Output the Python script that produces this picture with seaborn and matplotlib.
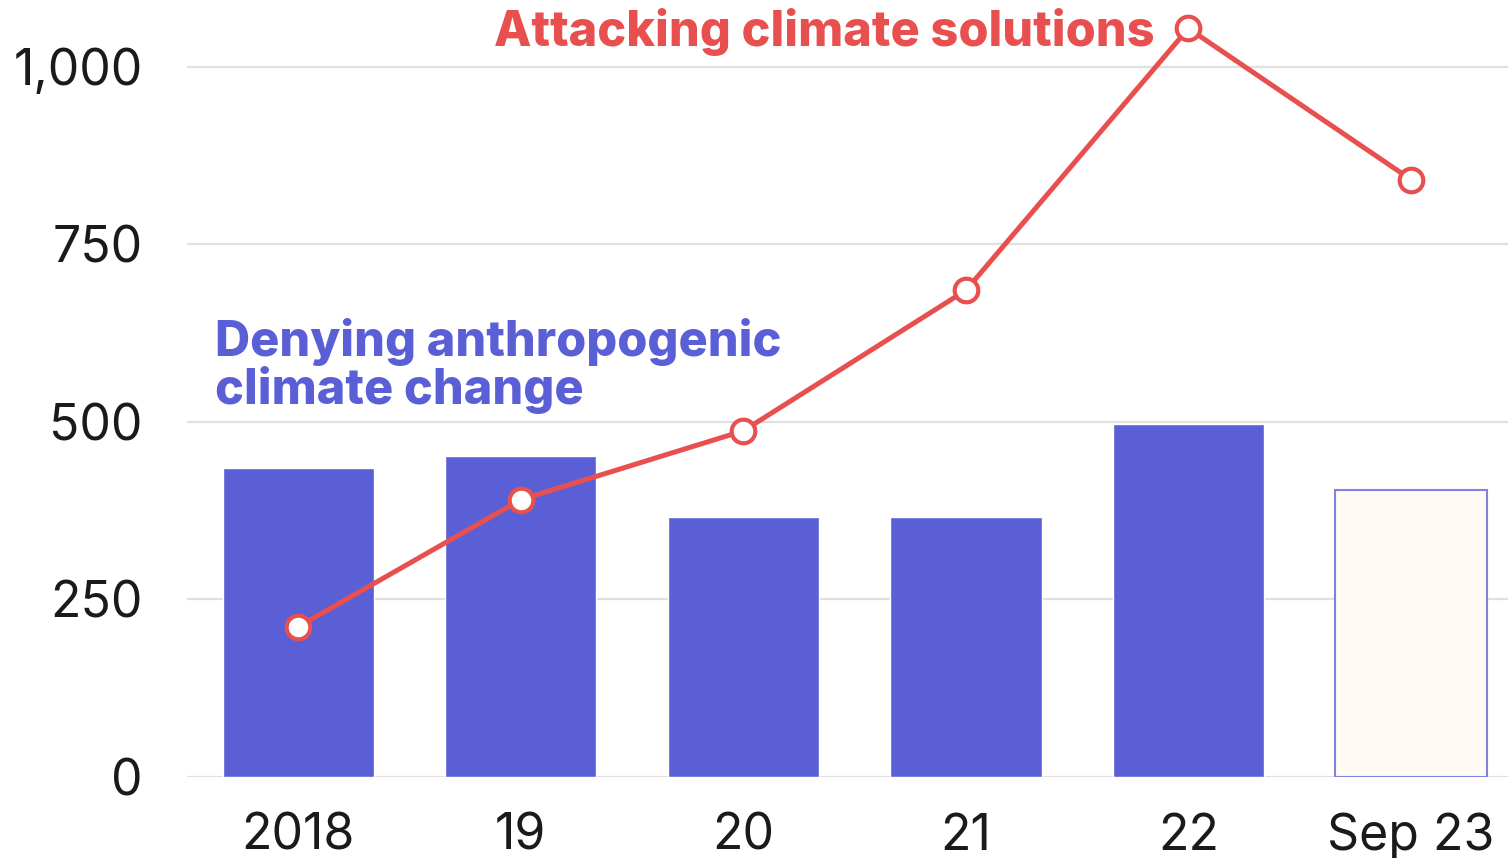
import numpy as np
import pandas as pd
import matplotlib
matplotlib.use("Agg")
import matplotlib.pyplot as plt
import seaborn as sns

# Yearly counts of claims by category
periods = ["2018", "19", "20", "21", "22", "Sep 23"]
denying = [435, 452, 366, 366, 496, 403]
attacking = [211, 390, 487, 685, 1054, 841]
y_ticks = [0, 250, 500, 750, 1000]
y_tick_labels = ["0", "250", "500", "750", "1,000"]

BLUE = "#5a5fd6"
RED = "#e8504f"
GRID = "#e0e0e0"
PARTIAL_FILL = "#fffaf3"
PARTIAL_EDGE = "#7f83dc"

sns.set_theme(style="white")
plt.rcParams["font.family"] = ["Inter", "DejaVu Sans"]

fig = plt.figure(figsize=(15.08, 8.58), dpi=100)
ax = fig.add_axes([187 / 1508, (858 - 776.5) / 858, 1 - 187 / 1508, 776.5 / 858])

df = pd.DataFrame({"period": periods, "denying": denying})
sns.barplot(data=df, x="period", y="denying", color=BLUE, width=0.68,
            saturation=1, ax=ax, zorder=2)

# Final period is partial: draw as outlined bar
last = ax.patches[-1]
last.set_facecolor(PARTIAL_FILL)
last.set_edgecolor(PARTIAL_EDGE)
last.set_linewidth(1.5)

line_df = pd.DataFrame({"x": np.arange(len(periods)), "attacking": attacking})
sns.lineplot(data=line_df, x="x", y="attacking", color=RED, lw=3.6,
             marker="o", markersize=17, markerfacecolor="white",
             markeredgecolor=RED, markeredgewidth=3, ax=ax, zorder=4,
             clip_on=False)

ax.set_xlim(-0.5, 5.436)
ax.set_ylim(0, 1094)
ax.set_yticks(y_ticks)
ax.set_yticklabels(y_tick_labels)
ax.set_xlabel("")
ax.set_ylabel("")
for y in y_ticks:
    ax.axhline(y, color=GRID, lw=1.6, zorder=1)
for s in ax.spines.values():
    s.set_visible(False)
ax.tick_params(axis="y", length=0, pad=32, labelsize=36, labelcolor="#1a1a1a")
ax.tick_params(axis="x", length=0, pad=26, labelsize=36, labelcolor="#1a1a1a")

ax.text(3.85, 1049, "Attacking climate solutions", color=RED, fontsize=35,
        fontweight="heavy", ha="right", va="center", zorder=5)
ax.text(-0.373, 646, "Denying anthropogenic\nclimate change", color=BLUE,
        fontsize=35, fontweight="heavy", ha="left", va="top", linespacing=1.0,
        zorder=5)

fig.savefig("out.png", dpi=100, facecolor="white")
